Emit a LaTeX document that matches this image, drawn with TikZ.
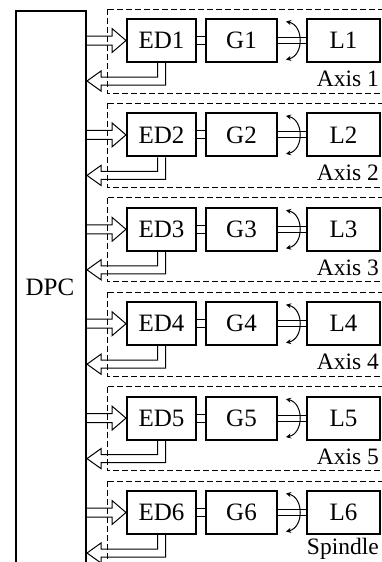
\documentclass[tikz,border=0pt]{standalone}
\usepackage{fontspec}
\setmainfont{Liberation Serif}
\usetikzlibrary{arrows.meta,calc}
\begin{document}
\begin{tikzpicture}[x=1pt,y=-1pt,
  txt/.style={font=\fontsize{25}{28}\selectfont, inner sep=0pt},
  axtxt/.style={font=\fontsize{23.5}{28}\selectfont, inner sep=0pt},
  blk/.style={draw, line width=2pt, minimum height=43pt, inner sep=0pt, txt},
  conn/.style={line width=1pt},
  dashbox/.style={line width=1pt, dash pattern=on 6pt off 3pt},
  rot/.style={line width=1pt, {Stealth[length=5pt,width=5pt]}-{Stealth[length=5pt,width=5pt]}}]
\useasboundingbox (0,0) rectangle (382,562);
\clip (0,0) rectangle (382,562);
\fill[white] (0,0) rectangle (382,562);
\node[draw, line width=2pt, minimum width=70pt, minimum height=600pt, anchor=north west, inner sep=0pt] (dpc) at (15,10) {};
\node[txt, anchor=base] (dpclabel) at (50,295) {DPC};
\foreach \i in {1,...,6}{
  \pgfmathsetmacro{\d}{(\i-1)*94.4}
  \draw[dashbox] (107,9+\d) rectangle (400,93+\d);
  \node[blk, minimum width=69pt] (ED\i) at (161.5,40.5+\d) {ED\i};
  \node[blk, minimum width=71pt] (G\i) at (241.5,40.5+\d) {G\i};
  \node[blk, minimum width=73pt] (L\i) at (343.5,40.5+\d) {L\i};
  % ED - G coupling
  \draw[conn] ($(ED\i.east)+(0,-4)$) -- ($(G\i.west)+(0,-4)$);
  \draw[conn] ($(ED\i.east)+(0,4)$) -- ($(G\i.west)+(0,4)$);
  % G - L shaft
  \draw[conn] ($(G\i.east)+(0,-3)$) -- ($(L\i.west)+(0,-3)$);
  \draw[conn] ($(G\i.east)+(0,3)$) -- ($(L\i.west)+(0,3)$);
  % rotation arrow
  \draw[rot] ($(G\i.east)+(8,-19)$) .. controls ($(G\i.east)+(26,-15)$) and ($(G\i.east)+(26,15)$) .. ($(G\i.east)+(8,19)$);
  % input arrow DPC -> ED
  \draw[conn] ($(dpc.east |- ED\i.west)+(0,-4.5)$) -- ($(ED\i.west)+(-14,-4.5)$) -- ($(ED\i.west)+(-14,-12)$) -- (ED\i.west) -- ($(ED\i.west)+(-14,12)$) -- ($(ED\i.west)+(-14,4.5)$) -- ($(dpc.east |- ED\i.west)+(0,4.5)$);
  % feedback arrow ED -> DPC
  \draw[conn] ($(ED\i.south)+(-4,0)$) -- ($(ED\i.south)+(-4,14)$) -- ($(dpc.east |- ED\i.south)+(14,14)$) -- ($(dpc.east |- ED\i.south)+(14,8)$) -- ($(dpc.east |- ED\i.south)+(0,18)$) -- ($(dpc.east |- ED\i.south)+(14,28)$) -- ($(dpc.east |- ED\i.south)+(14,22)$) -- ($(ED\i.south)+(4,22)$) -- ($(ED\i.south)+(4,0)$);
  \ifnum\i<6
    \node[axtxt, anchor=base east] (ax\i) at ($(L\i.south east)+(-2,23.5)$) {Axis \i};
  \else
    \node[axtxt, anchor=base east] (ax\i) at ($(L\i.south east)+(-2,19)$) {Spindle};
  \fi
}
\end{tikzpicture}
\end{document}
